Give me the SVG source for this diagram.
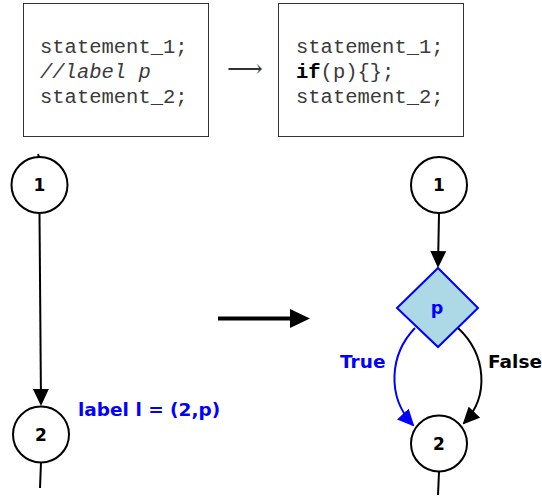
<svg xmlns="http://www.w3.org/2000/svg" width="542" height="498" viewBox="0 0 542 498">
  <style>
    .box { fill: #ffffff; stroke: #333333; stroke-width: 1; }
    .code { font-family: "Liberation Mono", "Courier New", monospace; font-size: 20.5px; fill: #3a3a3a; }
    .node circle { fill: #ffffff; stroke: #000000; stroke-width: 2; }
    .num { font-family: "DejaVu Sans", sans-serif; font-weight: bold; font-size: 17px; fill: #000000; text-anchor: middle; }
    .lbl { font-family: "DejaVu Sans", sans-serif; font-weight: bold; font-size: 18.5px; }
    .edge { fill: none; stroke: #000000; stroke-width: 2; }
    .edge.blue { stroke: #0000ff; }
  </style>
  <defs>
    <marker id="head" viewBox="0 0 17 16" refX="15" refY="8" markerWidth="17" markerHeight="16" markerUnits="userSpaceOnUse" orient="auto">
      <path d="M0,0 L17,8 L0,16 z" fill="#000000"/>
    </marker>
    <marker id="head-blue" viewBox="0 0 17 16" refX="15" refY="8" markerWidth="17" markerHeight="16" markerUnits="userSpaceOnUse" orient="auto">
      <path d="M0,0 L17,8 L0,16 z" fill="#0000ff"/>
    </marker>
  </defs>

  <!-- code before / after -->
  <g id="code-before">
    <rect class="box" x="23.5" y="3.5" width="185" height="133"/>
    <text class="code" x="40" y="53">statement_1;</text>
    <text class="code" x="40" y="78" font-style="italic">//label p</text>
    <text class="code" x="40" y="103">statement_2;</text>
  </g>
  <text id="code-arrow" x="227" y="77" font-family="DejaVu Serif, DejaVu Sans, serif" font-size="25" fill="#333333">⟶</text>
  <g id="code-after">
    <rect class="box" x="278.5" y="3.5" width="185" height="133"/>
    <text class="code" x="296" y="53">statement_1;</text>
    <text class="code" x="296" y="78"><tspan font-weight="bold" fill="#000000">if</tspan>(p){};</text>
    <text class="code" x="296" y="103">statement_2;</text>
  </g>

  <!-- transformation arrow -->
  <g id="transform-arrow">
    <line x1="218" y1="318.5" x2="292" y2="318.5" stroke="#000000" stroke-width="4"/>
    <polygon points="290,309 310,318.5 290,328" fill="#000000"/>
  </g>

  <!-- connectors -->
  <g id="connectors">
    <line class="edge" x1="38" y1="154" x2="39" y2="157"/>
    <line class="edge" x1="39.5" y1="213.5" x2="41" y2="404" marker-end="url(#head)"/>
    <line class="edge" x1="41" y1="462.5" x2="40" y2="488"/>
    <line class="edge" x1="439" y1="213.5" x2="438" y2="266" marker-end="url(#head)"/>
    <path class="edge blue" d="M415,328 C390,354 386,396 413,425" marker-end="url(#head-blue)"/>
    <path class="edge" d="M458,328 C486,354 490,396 464,423" marker-end="url(#head)"/>
    <line class="edge" x1="439" y1="472" x2="438" y2="495"/>
  </g>

  <!-- left graph -->
  <g id="n1-left" class="node">
    <circle cx="39.5" cy="185" r="28"/>
    <text class="num" x="39.5" y="191">1</text>
  </g>
  <g id="n2-left" class="node">
    <circle cx="41" cy="434.5" r="28"/>
    <text class="num" x="41" y="440.5">2</text>
  </g>
  <text id="label-l" class="lbl" x="78" y="415.5" fill="#0000ff">label l = (2,p)</text>

  <!-- right graph -->
  <g id="n1-right" class="node">
    <circle cx="439" cy="185" r="28"/>
    <text class="num" x="439" y="191">1</text>
  </g>
  <g id="cond-p">
    <polygon points="438,268 478,308 438,347 397,308" fill="#add8e6" stroke="#0000ff" stroke-width="2"/>
    <text class="num" x="437" y="314" style="fill:#0000ff; font-size:17.5px">p</text>
  </g>
  <g id="n2-right" class="node">
    <circle cx="439" cy="443.5" r="28"/>
    <text class="num" x="439" y="449.5">2</text>
  </g>
  <text id="label-true" class="lbl" x="340" y="368" fill="#0000ff">True</text>
  <text id="label-false" class="lbl" x="488" y="368" fill="#000000" font-size="18">False</text>
</svg>
